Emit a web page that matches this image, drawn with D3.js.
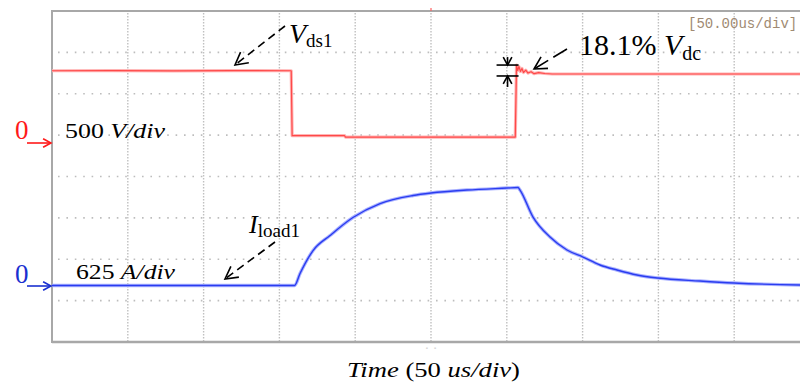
<!DOCTYPE html>
<html><head><meta charset="utf-8">
<script src="https://cdn.jsdelivr.net/npm/d3@7/dist/d3.min.js"></script>
<style>body{margin:0;background:#fff}svg{display:block}</style>
</head><body><div id="c"></div>
<script>
// ---- data ----
const timeDivUs = 50;               // us per division
const xDivisions = [0,1,2,3,4,5,6,7,8,9,10];
const yDivisions = [0,1,2,3,4,5,6,7,8];
const voltsPerDiv = 500;
const ampsPerDiv = 625;

const vdsTime  = [0,40,80,120,157.8,158.4,193,193.6,305.6,306.4,307.2,308,309,310,311,312.5,314,316,318,321,325,330,400,500];
const vdsVolts = [873,875,872,874,873,88,88,72,72,942,875,925,865,900,852,880,845,862,838,850,840,834,834,834];

const iTime = [0,80,160,163.6,172.2,183.4,198.5,216.4,238.1,250,273.7,300,307.4,308.7,317.3,328.5,339.7,350.3,361.5,372.7,385.9,399.7,427.4,449.9,493.4,500];
const iAmps = [0,0,0,181,528,755,1027,1238,1359,1397,1442,1472,1480,1442,1034,732,536,430,310,234,159,113,68,38,8,6];

// ---- layout ----
const W = 800, H = 385;
const svg = d3.select("#c").append("svg").attr("width", W).attr("height", H);

const gx = d3.scaleLinear().domain([0,10]).range([52, 810]);
const gy = d3.scaleLinear().domain([0,8]).range([11, 342]);
const xT = d3.scaleLinear().domain([0, 10*timeDivUs]).range(gx.range());
const pxPerDiv = (gy(8)-gy(0))/8;
const redZero = 143, blueZero = 285.5;
const yV = d3.scaleLinear().domain([0, voltsPerDiv]).range([redZero, redZero - pxPerDiv]);
const yI = d3.scaleLinear().domain([0, ampsPerDiv]).range([blueZero, blueZero - pxPerDiv]);

// grid
const grid = svg.append("g");
grid.selectAll("line.h").data(yDivisions.slice(1,-1)).join("line")
  .attr("x1", gx(0)+6).attr("x2", W).attr("y1", d=>gy(d)).attr("y2", d=>gy(d))
  .attr("stroke", "#bdbdbd").attr("stroke-width", 1.6).attr("stroke-dasharray", "1.6,6.8");
grid.selectAll("line.v").data(xDivisions.slice(1,-1)).join("line")
  .attr("x1", d=>gx(d)).attr("x2", d=>gx(d)).attr("y1", gy(0)+2).attr("y2", gy(8))
  .attr("stroke", "#c0c0c0").attr("stroke-width", 1.4).attr("stroke-dasharray", "1.4,1.6");

// frame
svg.append("line").attr("x1", gx(0)).attr("x2", W).attr("y1", gy(0)).attr("y2", gy(0))
  .attr("stroke", "#a8a8a8").attr("stroke-width", 2);
svg.append("line").attr("x1", gx(0)).attr("x2", W).attr("y1", gy(8)).attr("y2", gy(8))
  .attr("stroke", "#a8a8a8").attr("stroke-width", 2.5);
svg.append("line").attr("x1", gx(0)).attr("x2", gx(0)).attr("y1", gy(0)-1).attr("y2", gy(8)+1)
  .attr("stroke", "#a8a8a8").attr("stroke-width", 2);

// trigger markers
svg.append("line").attr("x1", xT(250)).attr("x2", xT(250)).attr("y1", gy(0)-3).attr("y2", gy(0))
  .attr("stroke", "#ff6060").attr("stroke-width", 1.2);
svg.append("text").attr("x", xT(250)).attr("y", gy(8)+8).attr("text-anchor","middle")
  .attr("font-family","DejaVu Sans Mono").attr("font-size", 7).attr("fill","#999").text("- -");

// traces
const lineV = d3.line().x((d,i)=>xT(vdsTime[i])).y(d=>yV(d));
const lineI = d3.line().x((d,i)=>xT(iTime[i])).y(d=>yI(d)).curve(d3.curveMonotoneX);
svg.append("path").attr("d", lineV(vdsVolts)).attr("fill","none")
  .attr("stroke","#ffb4b4").attr("stroke-width",3.2).attr("stroke-linejoin","round");
svg.append("path").attr("d", lineV(vdsVolts)).attr("fill","none")
  .attr("stroke","#ff4848").attr("stroke-width",1.2).attr("stroke-linejoin","round");
svg.append("path").attr("d", lineI(iAmps)).attr("fill","none")
  .attr("stroke","#aab2ff").attr("stroke-width",3.4).attr("stroke-linejoin","round");
svg.append("path").attr("d", lineI(iAmps)).attr("fill","none")
  .attr("stroke","#2a3cf0").attr("stroke-width",1.4).attr("stroke-linejoin","round");

// helpers
function arrow(x1,y1,x2,y2,color,dash,headLen){
  svg.append("line").attr("x1",x1).attr("y1",y1).attr("x2",x2).attr("y2",y2)
    .attr("stroke",color).attr("stroke-width",1.6).attr("stroke-dasharray",dash||null);
  const a = Math.atan2(y2-y1,x2-x1), L = headLen||12, s = 0.5;
  const p = [[x2-L*Math.cos(a-s), y2-L*Math.sin(a-s)],[x2,y2],[x2-L*Math.cos(a+s), y2-L*Math.sin(a+s)]];
  svg.append("path").attr("d", d3.line()(p)).attr("fill","none").attr("stroke",color).attr("stroke-width",1.6);
}
const serif = "Liberation Serif, Times New Roman, serif";

// zero markers
svg.append("text").attr("x",15).attr("y",139).attr("font-family",serif).attr("font-size",27)
  .attr("fill","#ff1a1a").text("0");
arrow(27, redZero, gx(0)-1, redZero, "#ff1a1a", null, 9);
svg.append("text").attr("x",15).attr("y",283).attr("font-family",serif).attr("font-size",27)
  .attr("fill","#1a30d0").text("0");
arrow(27, blueZero+0.5, gx(0)-1, blueZero+0.5, "#1a30d0", null, 9);

// scale labels
const t1 = svg.append("text").attr("x",65).attr("y",138).attr("font-family",serif).attr("font-size",22)
  .attr("textLength",100).attr("lengthAdjust","spacingAndGlyphs").attr("fill","#000");
t1.append("tspan").text("500 ");
t1.append("tspan").attr("font-style","italic").text("V/div");
const t2 = svg.append("text").attr("x",76).attr("y",279).attr("font-family",serif).attr("font-size",22)
  .attr("textLength",99).attr("lengthAdjust","spacingAndGlyphs").attr("fill","#000");
t2.append("tspan").text("625 ");
t2.append("tspan").attr("font-style","italic").text("A/div");

// Vds1 annotation
const a1 = svg.append("text").attr("x",289).attr("y",43).attr("font-family",serif).attr("font-size",28).attr("fill","#000");
a1.append("tspan").attr("font-style","italic").text("V");
a1.append("tspan").attr("font-size",19).attr("dy",4).text("ds1");
arrow(285, 26, 235, 65, "#000", "8,5", 14);

// 18.1% annotation
const a2 = svg.append("text").attr("x",579).attr("y",55).attr("font-family",serif).attr("font-size",30).attr("fill","#000");
a2.append("tspan").text("18.1% ");
a2.append("tspan").attr("font-style","italic").text("V");
a2.append("tspan").attr("font-size",20).attr("dy",5).text("dc");
arrow(567, 49, 534, 69, "#000", "16,6", 14);

// overshoot double-arrow marker
const mx = xT(300.5);
const yTop = yV(942), yBot = yV(810);
svg.append("line").attr("x1",mx-11).attr("x2",mx+11).attr("y1",yTop).attr("y2",yTop).attr("stroke","#000").attr("stroke-width",1.6);
svg.append("line").attr("x1",mx-11).attr("x2",mx+11).attr("y1",yBot).attr("y2",yBot).attr("stroke","#000").attr("stroke-width",1.6);
arrow(mx, yTop-8, mx, yTop, "#000", null, 9);
arrow(mx, yBot+11, mx, yBot, "#000", null, 9);

// Iload1 annotation
const a3 = svg.append("text").attr("x",249).attr("y",233).attr("font-family",serif).attr("font-size",26).attr("fill","#000");
a3.append("tspan").attr("font-style","italic").text("I");
a3.append("tspan").attr("font-size",19).attr("dy",4).text("load1");
arrow(275, 242, 225, 279, "#000", "8,5", 14);

// time-base readout
svg.append("text").attr("x",688).attr("y",28).attr("font-family","Liberation Mono, DejaVu Sans Mono, monospace")
  .attr("font-size",14).attr("fill","#a08a72").text("[50.00us/div]");

// x label
const xl = svg.append("text").attr("x",347).attr("y",377)
  .attr("font-family",serif).attr("font-size",22).attr("textLength",173).attr("lengthAdjust","spacingAndGlyphs").attr("fill","#000");
xl.append("tspan").attr("font-style","italic").text("Time ");
xl.append("tspan").text("(50 ");
xl.append("tspan").attr("font-style","italic").text("us/div");
xl.append("tspan").text(")");
</script></body></html>
